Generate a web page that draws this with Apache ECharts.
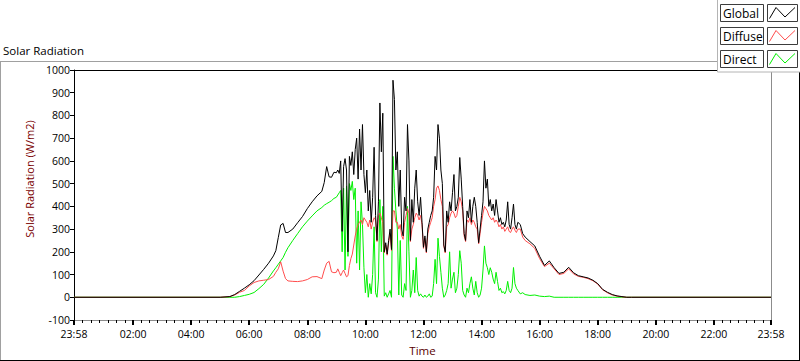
<!DOCTYPE html>
<html><head><meta charset="utf-8">
<script src="https://cdn.jsdelivr.net/npm/echarts@6/dist/echarts.min.js"></script>
<style>html,body{margin:0;padding:0;background:#fff}#c{width:800px;height:361px}</style>
</head><body><div id="c"></div><script>
// ---------- DATA ----------
// sample times (first entry 23:58 belongs to the previous day)
const times = [
  '23:58','05:00','05:20','05:30','05:40','05:50','06:00','06:10','06:20','06:30','06:40','06:50','06:55',
  '07:00','07:05','07:10','07:15','07:20','07:30','07:40','07:50','08:00','08:10','08:20','08:30','08:35',
  '08:40','08:45','08:50','08:55',
  '09:00','09:03','09:06','09:09','09:12','09:15','09:18','09:21','09:24','09:27','09:30','09:33','09:36','09:39','09:42','09:45','09:48','09:51','09:54','09:57',
  '10:00','10:03','10:06','10:09','10:12','10:15','10:18','10:21','10:24','10:27','10:30','10:33','10:36','10:39','10:42','10:45','10:48','10:51','10:54','10:57',
  '11:00','11:03','11:06','11:09','11:12','11:15','11:18','11:21','11:24','11:27','11:30','11:33','11:36','11:39','11:42','11:45','11:48','11:51','11:54','11:57',
  '12:00','12:03','12:06','12:09','12:12','12:15','12:18','12:21','12:24','12:27','12:30','12:33','12:36','12:39','12:42','12:45','12:48','12:51','12:54','12:57',
  '13:00','13:03','13:06','13:09','13:12','13:15','13:18','13:21','13:24','13:27','13:30','13:33','13:36','13:39','13:42','13:45','13:48','13:51','13:54','13:57',
  '14:00','14:03','14:06','14:09','14:12','14:15','14:18','14:21','14:24','14:27','14:30','14:33','14:36','14:39','14:42','14:45','14:48','14:51','14:54','14:57',
  '15:00','15:03','15:06','15:09','15:12','15:15',
  '15:20','15:25','15:30','15:40','15:50','16:00','16:10','16:20','16:30','16:40','16:50','17:00','17:10','17:20',
  '17:30','17:40','17:50','18:00','18:10','18:20','18:30','18:40','18:50','19:00','19:10','23:58'
];
const globalValues = [
  0,0,3,12,26,40,55,73,98,123,150,182,205,
  262,318,325,285,285,300,328,355,390,420,446,466,505,
  575,530,528,550,
  548,560,545,600,290,575,610,560,200,620,580,640,540,650,700,520,740,560,760,540,
  460,560,380,470,330,440,660,360,250,420,855,640,810,200,240,190,250,300,210,955,
  870,560,640,400,560,300,270,440,380,760,600,250,430,330,480,560,420,360,440,330,
  220,270,200,300,330,360,380,440,620,560,760,700,560,500,230,200,380,330,420,380,
  460,540,380,400,440,615,520,400,280,250,380,350,430,330,400,440,400,330,240,300,
  360,420,600,480,520,400,430,380,410,360,430,380,330,350,320,330,310,340,420,320,
  300,350,410,320,300,330,
  320,280,265,245,226,180,140,160,130,105,110,132,108,95,
  90,85,75,60,35,22,12,6,3,0,0,0
];
const diffuseValues = [
  0,0,3,10,22,30,50,65,72,75,78,92,110,
  125,156,115,82,72,70,69,72,78,90,91,82,120,
  150,158,112,108,
  110,125,110,95,108,120,105,90,95,140,170,190,230,270,300,320,330,340,320,350,
  340,330,310,340,300,330,350,340,245,360,370,350,330,195,230,185,240,280,205,380,
  380,330,330,300,320,270,255,330,360,390,370,245,300,320,350,370,360,340,360,320,
  215,260,195,280,310,330,350,400,430,480,490,470,430,400,225,195,310,320,350,370,
  380,370,350,360,400,440,420,380,270,245,340,330,350,320,340,330,310,300,235,280,
  330,370,400,390,380,360,350,340,350,330,340,330,310,320,300,310,290,300,310,290,
  285,300,310,295,285,300,
  300,265,250,235,215,170,135,150,125,100,105,125,103,92,
  88,82,73,58,33,20,10,5,2,0,0,0
];
const directValues = [
  0,0,0,0,3,8,13,21,38,57,85,116,130,
  145,160,175,198,218,250,280,310,335,358,380,395,405,
  412,418,425,435,
  440,450,460,470,200,480,120,490,180,500,470,510,430,480,150,380,120,420,320,130,
  20,100,0,60,15,100,310,20,0,80,430,200,400,5,20,0,15,30,0,620,
  480,380,300,10,250,10,0,60,30,400,200,0,30,120,20,175,30,5,15,5,
  0,10,0,5,15,0,5,60,167,60,260,180,110,40,0,10,30,60,200,40,
  80,110,20,40,100,205,150,30,10,0,40,20,60,90,40,10,70,20,0,10,
  40,120,226,150,130,100,130,110,80,60,110,70,30,40,20,25,15,30,70,30,
  20,40,131,60,40,30,
  15,20,12,8,10,5,3,5,0,0,0,0,0,0,
  0,0,0,0,0,0,0,0,0,0,0,0
];
const seriesNames = ['Global','Diffuse','Direct'];
const xTickLabels = ['23:58','02:00','04:00','06:00','08:00','10:00','12:00','14:00','16:00','18:00','20:00','22:00','23:58'];
const yMin = -100, yMax = 1000, yStep = 100;
const chartTitle = 'Solar Radiation';
const yName = 'Solar Radiation (W/m2)';
const xName = 'Time';

// ---------- STYLE ----------
const colors = { Global: '#000000', Diffuse: '#ff4c4c', Direct: '#00f000' };
const FONT = '"Open Sans", "Noto Sans", sans-serif';

function toMinutes(s, prevDay) {
  const p = s.split(':').map(Number);
  return p[0] * 60 + p[1] - (prevDay ? 1440 : 0);
}
[globalValues, diffuseValues, directValues].forEach((a, k) => {
  if (a.length !== times.length) console.error('length mismatch', k, a.length, times.length);
});
// minute-resolution time axis (one category per minute, 23:58 prev day .. 23:58)
const xMinV = toMinutes(xTickLabels[0], true);
const xMaxV = toMinutes(xTickLabels[xTickLabels.length - 1], false);
const minuteCats = [];
for (let m = xMinV; m <= xMaxV; m++) minuteCats.push(String(m));
const majorVals = xTickLabels.map((t, i) => toMinutes(t, i === 0));
const majorIdx = new Map(majorVals.map((v, i) => [v - xMinV, i]));
const minorIdx = new Set();
for (let i = 0; i < majorVals.length - 1; i++) {
  for (let k = 1; k < 7; k++) minorIdx.add(Math.round(majorVals[i] + (majorVals[i + 1] - majorVals[i]) * k / 7) - xMinV);
}
const xIndex = times.map((t, i) => toMinutes(t, i === 0) - xMinV);
const valuesByName = { Global: globalValues, Diffuse: diffuseValues, Direct: directValues };

// draw order: Direct, Diffuse, Global on top
const drawOrder = ['Direct', 'Diffuse', 'Global'];
const series = drawOrder.map(n => ({
  name: n, type: 'line', xAxisIndex: 0, yAxisIndex: 0,
  data: xIndex.map((x, i) => [x, valuesByName[n][i]]),
  showSymbol: false, symbol: 'none', smooth: false,
  lineStyle: { color: colors[n], width: 1 }, itemStyle: { color: colors[n] },
  emphasis: { disabled: true }, silent: true
}));

// legend drawn LabVIEW style
const legendGraphics = [];
legendGraphics.push({ type: 'rect', shape: { x: 717.5, y: -1, width: 84, height: 73 },
  style: { fill: '#ffffff', stroke: '#b4b4b4', lineWidth: 1 }, z: 50 });
seriesNames.forEach((n, i) => {
  const y = 4.5 + i * 23;
  legendGraphics.push({ type: 'rect', shape: { x: 720.5, y: y, width: 43, height: 17 },
    style: { fill: '#fff', stroke: '#3c3c3c', lineWidth: 1 }, z: 51 });
  legendGraphics.push({ type: 'text', x: 723, y: y + 8.5,
    style: { text: n, font: '12px ' + FONT, fill: '#000', verticalAlign: 'middle', align: 'left' }, z: 52 });
  legendGraphics.push({ type: 'rect', shape: { x: 767.5, y: y, width: 30, height: 17 },
    style: { fill: '#fff', stroke: '#3c3c3c', lineWidth: 1 }, z: 51 });
  legendGraphics.push({ type: 'polyline',
    shape: { points: [[769.5, y + 14], [776, y + 3], [785, y + 12.5], [795, y + 3]] },
    style: { stroke: colors[n], lineWidth: 1, fill: null }, z: 52 });
});
const frameGraphics = [
  { type: 'line', shape: { x1: 0, y1: 61.5, x2: 718, y2: 61.5 }, style: { stroke: '#a0a0a0', lineWidth: 1 }, z: 40 },
  { type: 'line', shape: { x1: 0.5, y1: 61.5, x2: 0.5, y2: 361 }, style: { stroke: '#a0a0a0', lineWidth: 1 }, z: 40 },
  { type: 'line', shape: { x1: 0, y1: 360.5, x2: 800, y2: 360.5 }, style: { stroke: '#000', lineWidth: 1 }, z: 40 },
  { type: 'line', shape: { x1: 799.5, y1: 72, x2: 799.5, y2: 361 }, style: { stroke: '#000', lineWidth: 1 }, z: 40 }
];

const chart = echarts.init(document.getElementById('c'), null, { renderer: 'svg' });
chart.setOption({
  animation: false,
  backgroundColor: '#ffffff',
  textStyle: { fontFamily: FONT },
  title: { text: chartTitle, left: 3, top: 44, padding: 0,
    textStyle: { fontSize: 11.5, fontWeight: 'normal', color: '#000', fontFamily: FONT } },
  grid: { left: 74, top: 70, width: 697, height: 251, containLabel: false },
  xAxis: [
    { type: 'category', data: minuteCats, boundaryGap: false, position: 'bottom',
      axisLine: { show: true, onZero: false, lineStyle: { color: '#8c8c8c', width: 1 } },
      axisTick: { show: true, inside: false, length: 5, interval: (i) => majorIdx.has(i),
        lineStyle: { color: '#000', width: 2 } },
      axisLabel: { show: true, interval: (i) => majorIdx.has(i), margin: 8, fontSize: 10.5, color: '#000',
        fontFamily: FONT, hideOverlap: false, showMinLabel: true, showMaxLabel: true,
        formatter: (v) => { const k = majorIdx.get(Number(v) - xMinV); return k !== undefined ? xTickLabels[k] : ''; } },
      splitLine: { show: false },
      name: xName, nameLocation: 'middle', nameGap: 24,
      nameTextStyle: { fontSize: 11.5, color: '#5a0000', fontFamily: FONT } },
    { type: 'category', data: minuteCats, boundaryGap: false, position: 'bottom',
      axisLine: { show: false, onZero: false },
      axisTick: { show: true, inside: false, length: 3, interval: (i) => minorIdx.has(i),
        lineStyle: { color: '#000', width: 1 } },
      axisLabel: { show: false }, splitLine: { show: false } },
    { type: 'category', data: minuteCats, boundaryGap: false, position: 'top',
      axisLine: { show: true, onZero: false, lineStyle: { color: '#000', width: 1 } },
      axisTick: { show: false }, axisLabel: { show: false }, splitLine: { show: false } }
  ],
  yAxis: [
    { type: 'value', position: 'left', min: yMin, max: yMax, interval: yStep,
      axisLine: { show: true, onZero: false, lineStyle: { color: '#000', width: 1 } },
      axisTick: { show: true, inside: false, length: 4, lineStyle: { color: '#000', width: 1 } },
      axisLabel: { margin: 4, fontSize: 10.5, color: '#000', fontFamily: FONT, showMinLabel: true, showMaxLabel: true,
        formatter: v => String(v) },
      splitLine: { show: false },
      name: yName, nameLocation: 'middle', nameGap: 37, nameRotate: 90,
      nameTextStyle: { fontSize: 11, color: '#7a0000', fontFamily: FONT, padding: [0, 0, 0, 32] } },
    { type: 'value', position: 'right', min: yMin, max: yMax, interval: yStep,
      axisLine: { show: true, onZero: false, lineStyle: { color: '#8c8c8c', width: 1 } },
      axisTick: { show: false }, axisLabel: { show: false }, splitLine: { show: false } }
  ],
  series: series,
  graphic: frameGraphics.concat(legendGraphics)
});
</script></body></html>
